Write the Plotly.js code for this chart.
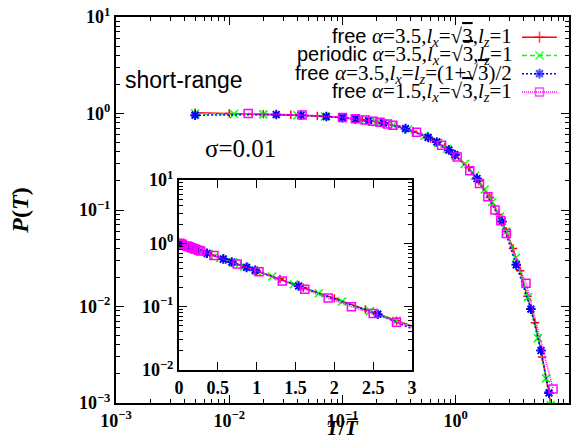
<!DOCTYPE html>
<html><head><meta charset="utf-8">
<script src="https://cdn.plot.ly/plotly-3.0.1.min.js"></script>
<style>html,body{margin:0;padding:0;background:#fff}#chart{width:576px;height:438px}</style>
</head><body><div id="chart"></div>
<script>
// ---------- data ----------
const seriesLabels = [
  '<span style="font-family:Liberation Sans;font-size:20px">free </span><i>α</i>=3.5,<i>l</i><sub><i>x</i></sub>=√<span style="text-decoration:overline">3</span>,<i>l</i><sub><i>z</i></sub>=1',
  '<span style="font-family:Liberation Sans;font-size:20px">periodic </span><i>α</i>=3.5,<i>l</i><sub><i>x</i></sub>=√<span style="text-decoration:overline">3</span>,<i>l</i><sub><i>z</i></sub>=1',
  '<span style="font-family:Liberation Sans;font-size:20px">free </span><i>α</i>=3.5,<i>l</i><sub><i>x</i></sub>=<i>l</i><sub><i>z</i></sub>=(1+√<span style="text-decoration:overline">3</span>)/2',
  '<span style="font-family:Liberation Sans;font-size:20px">free </span><i>α</i>=1.5,<i>l</i><sub><i>x</i></sub>=√<span style="text-decoration:overline">3</span>,<i>l</i><sub><i>z</i></sub>=1'
];

const xFree35 = [0.005, 0.01, 0.02, 0.035, 0.06, 0.1, 0.15, 0.22, 0.3, 0.42, 0.6, 0.8, 1.0, 1.3, 1.6, 2.0, 2.4, 2.8, 3.2, 3.7, 4.3, 5.0, 5.8, 6.6, 7.0];
const yFree35 = [1.02, 1.0, 0.985, 0.97, 0.945, 0.905, 0.86, 0.80, 0.74, 0.655, 0.55, 0.45, 0.37, 0.275, 0.20, 0.135, 0.09, 0.06, 0.04, 0.0235, 0.0128, 0.0068, 0.003, 0.0013, 0.0009];

const xPeriodic35 = [0.005, 0.011, 0.02, 0.04, 0.07, 0.1, 0.14, 0.2, 0.28, 0.38, 0.53, 0.7, 0.84, 1.0, 1.2, 1.48, 1.8, 2.1, 2.46, 2.8, 3.4, 4.34, 5.32, 6.27, 6.9];
const yPeriodic35 = [1.0, 0.99, 0.98, 0.96, 0.932, 0.905, 0.87, 0.818, 0.755, 0.683, 0.588, 0.496, 0.43, 0.365, 0.30, 0.226, 0.163, 0.121, 0.085, 0.06, 0.032, 0.0125, 0.0047, 0.0018, 0.00095];

const xFreeSq35 = [0.005, 0.026, 0.043, 0.072, 0.1, 0.13, 0.17, 0.23, 0.36, 0.57, 0.68, 0.87, 0.98, 1.54, 2.56, 3.42, 4.61, 5.66, 6.66];
const yFreeSq35 = [0.96, 0.975, 0.958, 0.93, 0.905, 0.878, 0.843, 0.795, 0.697, 0.565, 0.507, 0.418, 0.375, 0.212, 0.076, 0.027, 0.0094, 0.0035, 0.00127];

const xFree15 = [0.0147, 0.044, 0.1, 0.13, 0.158, 0.186, 0.214, 0.25, 0.278, 0.45, 0.75, 1.03, 1.33, 1.62, 1.92, 2.22, 2.5, 2.8, 4.17, 7.23];
const yFree15 = [1.0, 0.965, 0.91, 0.88, 0.855, 0.83, 0.81, 0.78, 0.757, 0.64, 0.47, 0.355, 0.255, 0.188, 0.137, 0.10, 0.078, 0.057, 0.0174, 0.0014];

const mainTickVals = [0.001, 0.01, 0.1, 1, 10];
const mainTickText = ['10<sup>−3</sup>', '10<sup>−2</sup>', '10<sup>−1</sup>', '10<sup>0</sup>', '10<sup>1</sup>'];
const insetXTickVals = [0, 0.5, 1, 1.5, 2, 2.5, 3];
const insetXTickText = ['0', '0.5', '1', '1.5', '2', '2.5', '3'];
const insetYTickVals = [0.01, 0.1, 1, 10];
const insetYTickText = ['10<sup>−2</sup>', '10<sup>−1</sup>', '10<sup>0</sup>', '10<sup>1</sup>'];

// ---------- styles ----------
const styles = [
  {color: '#ff0000', dash: 'solid', lw: 1.5, symbol: 'cross-thin-open', size: 6, mlw: 1.5},
  {color: '#00ff00', dash: '5px,3px', lw: 1.5, symbol: 'x-thin-open', size: 8, mlw: 1.5},
  {color: '#0000ff', dash: '2px,2px', lw: 1.5, symbol: 'asterisk-open', size: 8, mlw: 2},
  {color: '#ff00ff', dash: '1px,1px', lw: 1.5, symbol: 'square-open', size: 8, mlw: 1.5}
];
const xs = [xFree35, xPeriodic35, xFreeSq35, xFree15];
const ys = [yFree35, yPeriodic35, yFreeSq35, yFree15];

const traces = [];
for (let i = 0; i < 4; i++) {
  const s = styles[i];
  const common = {
    type: 'scatter', mode: 'lines+markers', showlegend: false,
    line: {color: s.color, width: s.lw, dash: s.dash},
    marker: {symbol: s.symbol, size: s.size, color: s.color, line: {color: s.color, width: s.mlw}}
  };
  traces.push(Object.assign({}, common, {x: xs[i], y: ys[i], xaxis: 'x', yaxis: 'y'}));
  traces.push(Object.assign({}, common, {x: xs[i], y: ys[i], xaxis: 'x2', yaxis: 'y2'}));
  // legend key sample (hidden axes x3/y3)
  traces.push(Object.assign({}, common, {
    x: [0, 0.5, 1], y: [i + 1, i + 1, i + 1], xaxis: 'x3', yaxis: 'y3',
    marker: {symbol: s.symbol, size: [0, Math.max(s.size, 8), 0], color: s.color, line: {color: s.color, width: s.mlw}}
  }));
}

const W = 576, H = 438;
const L = 116, R = 569, T = 17, B = 403;
const px = v => (v - L) / (R - L);
const py = v => (B - v) / (B - T);

const tickFont = {family: 'Liberation Serif', size: 18, color: '#000', weight: 'bold'};
const axBase = {
  showline: true, linewidth: 2, linecolor: '#000', mirror: 'ticks',
  ticks: 'inside', ticklen: 8, tickwidth: 1, tickcolor: '#000',
  showgrid: false, zeroline: false, tickfont: tickFont
};

const legendAnn = seriesLabels.map((t, i) => ({
  xref: 'paper', yref: 'y3', x: px(514), y: i + 1, xanchor: 'right', yanchor: 'middle',
  text: t, showarrow: false,
  font: {family: 'Liberation Serif', size: 21, color: '#000'}
}));

const layout = {
  width: W, height: H,
  margin: {l: L, r: W - R, t: T, b: H - B, pad: 0},
  paper_bgcolor: '#fff', plot_bgcolor: 'rgba(0,0,0,0)',
  font: {family: 'Liberation Serif', color: '#000'},
  xaxis: Object.assign({}, axBase, {
    type: 'log', range: [-3, 1], domain: [0, 1], anchor: 'y',
    tickmode: 'array', tickvals: mainTickVals, ticktext: mainTickText,
    minor: {ticks: 'inside', ticklen: 4, tickcolor: '#000', dtick: 'D1', showgrid: false}
  }),
  yaxis: Object.assign({}, axBase, {
    type: 'log', range: [-3, 1], domain: [0, 1], anchor: 'x',
    tickmode: 'array', tickvals: mainTickVals, ticktext: mainTickText,
    minor: {ticks: 'inside', ticklen: 4, tickcolor: '#000', dtick: 'D1', showgrid: false},
    title: {text: '<b><i>P</i>(<i>T</i>)</b>', font: {family: 'Liberation Serif', size: 24, color: '#000'}, standoff: 44}
  }),
  xaxis2: Object.assign({}, axBase, {
    type: 'linear', range: [0, 3], domain: [px(179), px(412)], anchor: 'y2',
    tickmode: 'array', tickvals: insetXTickVals, ticktext: insetXTickText
  }),
  yaxis2: Object.assign({}, axBase, {
    type: 'log', range: [-2, 1], domain: [py(370), py(180)], anchor: 'x2',
    tickmode: 'array', tickvals: insetYTickVals, ticktext: insetYTickText,
    minor: {ticks: 'inside', ticklen: 4, tickcolor: '#000', dtick: 'D1', showgrid: false}
  }),
  xaxis3: {domain: [px(522), px(557)], range: [0, 1], visible: false, anchor: 'y3', fixedrange: true},
  yaxis3: {domain: [py(101), py(28)], range: [4.5, 0.5], visible: false, anchor: 'x3', fixedrange: true},
  annotations: legendAnn.concat([
    {xref: 'paper', yref: 'paper', x: px(342), y: py(428), xanchor: 'center', yanchor: 'middle',
     text: '<b><i>T</i>/<i>T̅</i></b>', showarrow: false, borderpad: 0,
     font: {family: 'Liberation Serif', size: 21, color: '#000'}},
    {xref: 'paper', yref: 'paper', x: px(123), y: py(80), xanchor: 'left', yanchor: 'middle',
     text: 'short-range', showarrow: false, font: {family: 'Liberation Sans', size: 23, color: '#000'}},
    {xref: 'paper', yref: 'paper', x: px(203), y: py(148), xanchor: 'left', yanchor: 'middle',
     text: 'σ=0.01', showarrow: false, font: {family: 'Liberation Serif', size: 25, color: '#000'}}
  ])
};

Plotly.newPlot('chart', traces, layout, {displayModeBar: false, staticPlot: true});
</script>
</body></html>
